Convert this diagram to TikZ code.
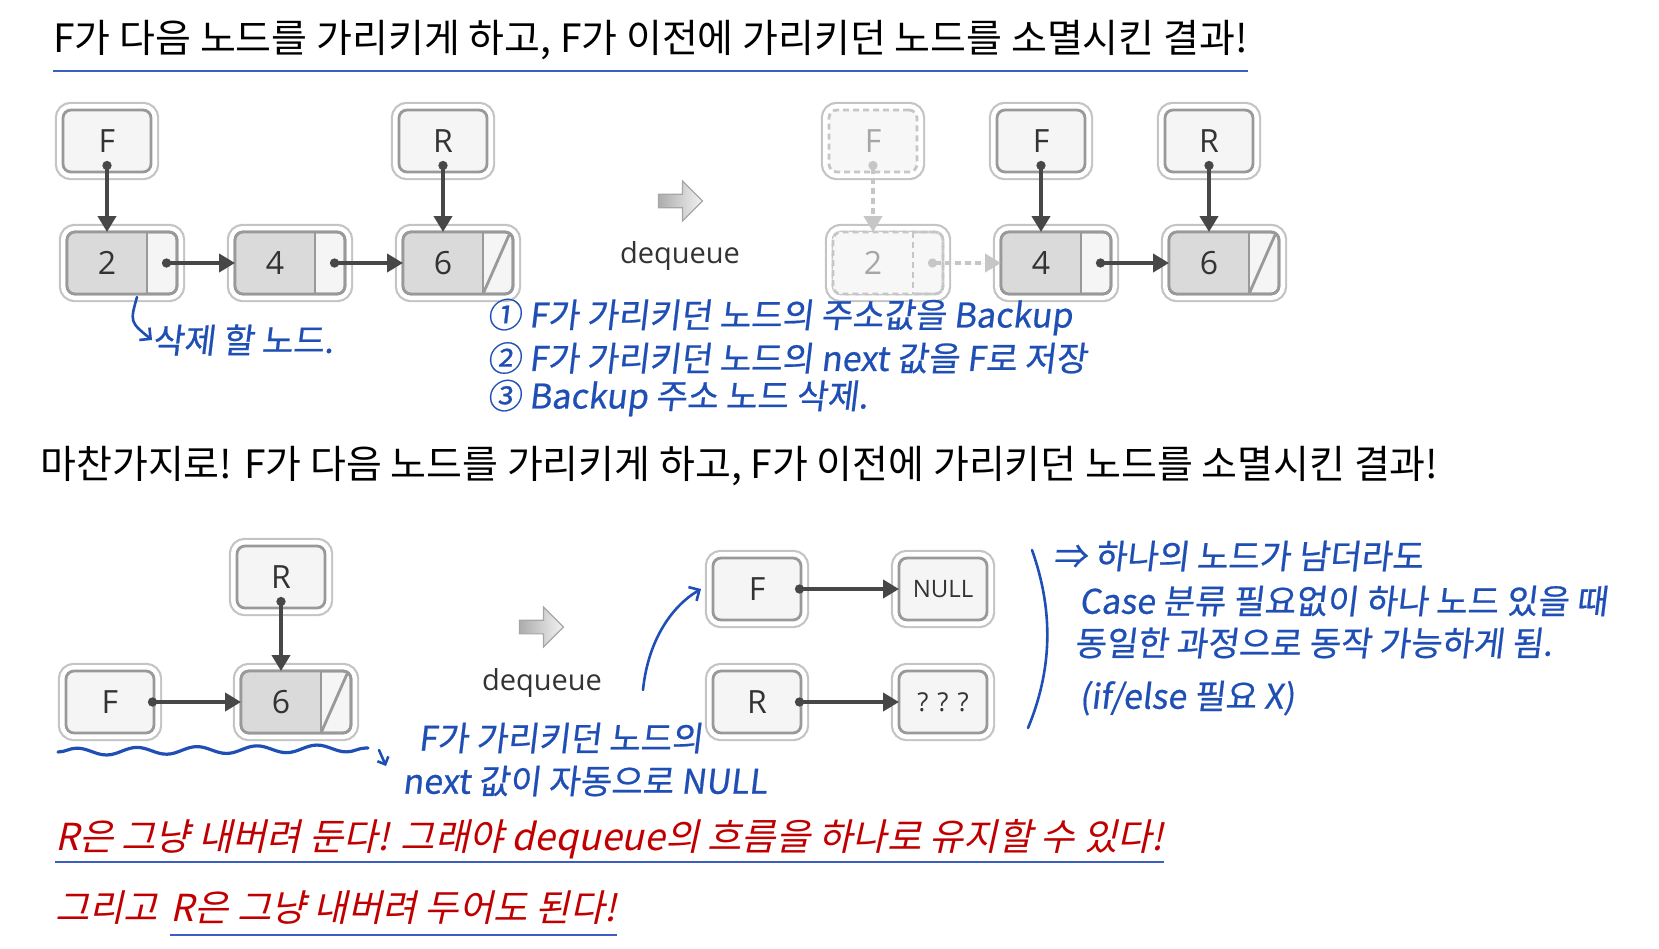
\documentclass[tikz,border=0pt]{standalone}
\usepackage{fontspec}
\setmainfont{Open Sans}
\newfontfamily\kofont{Noto Sans CJK KR}
\newfontfamily\handfont[FakeSlant=0.12, FakeBold=0.6]{Noto Sans CJK KR}
\newfontfamily\redfont[FakeSlant=0.22]{Noto Sans CJK KR}
\usetikzlibrary{arrows.meta, positioning, calc, shapes.arrows, decorations.pathmorphing}
\definecolor{boxline}{HTML}{999999}
\definecolor{boxfill}{HTML}{F4F5F4}
\definecolor{datafill}{HTML}{DADADA}
\definecolor{ptrgray}{HTML}{474747}
\definecolor{ghostline}{HTML}{C6C6C6}
\definecolor{ghostfill}{HTML}{F7F7F7}
\definecolor{ghosttext}{HTML}{A6A6A6}
\definecolor{rimshadow}{HTML}{C4C4C4}
\definecolor{textgray}{HTML}{333333}
\definecolor{inkblue}{HTML}{1F4FB5}
\definecolor{inkred}{HTML}{C00000}
\definecolor{ulblue}{HTML}{3A5FC0}

% list node: name, position, value, style prefix (q or ghost)
\newcommand{\qnode}[4]{%
  \node[#4box] (#1) at #2 {};
  \coordinate (#1-div) at ([xshift=-15pt]#1.north east);
  \begin{scope}
    \clip[rounded corners=4pt] (#1.south west) rectangle (#1.north east);
    \fill[#4data] (#1.south west) rectangle (#1-div);
  \end{scope}
  \draw[#4edge, rounded corners=4pt] (#1.south west) rectangle (#1.north east);
  \draw[#4edge] (#1-div) -- (#1-div |- #1.south);
  \node[#4val] (#1-val) at ([xshift=-7.5pt]#1.center) {#3};
  \coordinate (#1-next) at ([xshift=-7.5pt]#1.east);
}

\begin{document}
\begin{tikzpicture}[x=0.5pt, y=-0.5pt,
  rim/.style={preaction={draw=rimshadow, solid, line width=8.2pt},
              preaction={draw=white, solid, line width=6pt}},
  ptrbox/.style={rectangle, rounded corners=4pt, rim, draw=boxline, line width=1.4pt,
                 fill=boxfill, minimum width=44pt, minimum height=31pt, inner sep=0pt,
                 outer sep=0pt, font=\fontsize{16}{18}\selectfont, text=textgray},
  qbox/.style={ptrbox, minimum width=55pt},
  qdata/.style={datafill},
  qedge/.style={draw=boxline, line width=1.4pt},
  qval/.style={font=\fontsize{16}{18}\selectfont, text=textgray, inner sep=0pt},
  ghostbox/.style={qbox, draw=ghostline, dash pattern=on 3pt off 2pt, fill=ghostfill},
  ghostdata/.style={ghostfill},
  ghostedge/.style={draw=ghostline, line width=1.4pt, dash pattern=on 3pt off 2pt},
  ghostval/.style={qval, text=ghosttext},
  ptr/.style={arrows={Circle[length=4.5pt]-Triangle[width=9pt,length=8pt]}, line width=2pt, draw=ptrgray, fill=ptrgray},
  ghostptr/.style={ptr, draw=ghostline, fill=ghostline, dash pattern=on 3pt off 2pt},
  deqarrow/.style={single arrow, draw=gray!70, line width=0.6pt, left color=gray!65,
                   right color=gray!10, minimum height=22pt, minimum width=20pt,
                   single arrow head extend=2.5pt, inner sep=1pt},
  deqlabel/.style={font=\fontsize{14.5}{16}\selectfont, text=textgray},
  heading/.style={font=\kofont\fontsize{19.5}{21}\selectfont, inner sep=0pt},
  uline/.style={draw=ulblue, line width=1.1pt},
  hand/.style={font=\handfont\fontsize{17}{19}\selectfont, text=inkblue, inner sep=0pt},
  handline/.style={draw=inkblue, line width=1.3pt, line cap=round},
  redtext/.style={font=\redfont\fontsize{18.6}{20}\selectfont, text=inkred, inner sep=0pt},
]
\useasboundingbox (0,0) rectangle (1659,948);

% title
\node[heading, anchor=west] (title) at (53,40) {F가 다음 노드를 가리키게 하고, F가 이전에 가리키던 노드를 소멸시킨 결과!};
\draw[uline] ([yshift=-15.5pt]title.west) -- ([yshift=-15.5pt]title.east);

% before dequeue
\node[ptrbox] (f1) at (107,141) {F};
\node[ptrbox] (r1) at (443,141) {R};
\qnode{a2}{(122,263)}{2}{q}
\qnode{a4}{(290,263)}{4}{q}
\qnode{a6}{(458,263)}{6}{q}
\draw[qedge] (a6-div |- a6.south) -- ([xshift=-2pt,yshift=-1.5pt]a6.north east);
\draw[ptr] ([yshift=-10pt]f1.center) -- (f1.center |- a2.north);
\draw[ptr] ([yshift=-10pt]r1.center) -- (r1.center |- a6.north);
\draw[ptr] (a2-next) -- (a4.west);
\draw[ptr] (a4-next) -- (a6.west);

\node[deqarrow] (deq1) at (677,201) {};
\node[deqlabel] (deqtxt1) at (680,256) {dequeue};

% after dequeue
\node[ptrbox, draw=ghostline, dash pattern=on 3pt off 2pt, fill=ghostfill, text=ghosttext] (gf) at (873,141) {F};
\node[ptrbox] (f2) at (1041,141) {F};
\node[ptrbox] (r2) at (1209,141) {R};
\qnode{g2}{(888,263)}{2}{ghost}
\qnode{b4}{(1056,263)}{4}{q}
\qnode{b6}{(1224,263)}{6}{q}
\draw[qedge] (b6-div |- b6.south) -- ([xshift=-2pt,yshift=-1.5pt]b6.north east);
\draw[ghostptr] ([yshift=-10pt]gf.center) -- (gf.center |- g2.north);
\draw[ghostptr] (g2-next) -- (b4.west);
\draw[ptr] ([yshift=-10pt]f2.center) -- (f2.center |- b4.north);
\draw[ptr] ([yshift=-10pt]r2.center) -- (r2.center |- b6.north);
\draw[ptr] (b4-next) -- (b6.west);

% notes
\coordinate (delhook) at (137,297);
\node[hand, anchor=west] (del) at (152,340) {삭제 할 노드.};
\draw[handline, -{Straight Barb[length=4pt]}] (delhook) .. controls (130,322) .. (del.west);
\node[hand, anchor=west] (st1) at (487,317) {① F가 가리키던 노드의 주소값을 Backup};
\node[hand, anchor=west] (st2) at (487,358) {② F가 가리키던 노드의 next 값을 F로 저장};
\node[hand, anchor=west] (st3) at (487,398) {③ Backup 주소 노드 삭제.};

% second heading
\node[heading, anchor=west] (title2) at (40,466) {마찬가지로! F가 다음 노드를 가리키게 하고, F가 이전에 가리키던 노드를 소멸시킨 결과!};

% one node left
\node[ptrbox] (r3) at (281,577) {R};
\node[ptrbox] (f3) at (110,702) {F};
\qnode{c6}{(296,702)}{6}{q}
\draw[qedge] (c6-div |- c6.south) -- ([xshift=-2pt,yshift=-1.5pt]c6.north east);
\draw[ptr] ([yshift=-10pt]r3.center) -- (r3.center |- c6.north);
\draw[ptr] ([xshift=-3pt]f3.east) -- (c6.west);

\node[deqarrow] (deq2) at (538,627) {};
\node[deqlabel] (deqtxt2) at (542,683) {dequeue};

\node[ptrbox] (f4) at (757,589) {F};
\node[ptrbox, font=\fontsize{12}{14}\selectfont] (null) at (943,589) {NULL};
\node[ptrbox] (r4) at (757,702) {R};
\node[ptrbox, font=\fontsize{13}{15}\selectfont] (qq) at (943,702) {? ? ?};
\draw[ptr] ([xshift=-3pt]f4.east) -- (null.west);
\draw[ptr] ([xshift=-3pt]r4.east) -- (qq.west);

% notes
\draw[handline, line width=1.6pt, decorate, decoration={snake, amplitude=1.8pt, segment length=30pt}] (58,752) -- (368,748);
\draw[handline, -{Straight Barb[length=3pt]}] (379,750) -- (386,766);
\node[hand, anchor=west] (auto1) at (418,738) {F가 가리키던 노드의};
\node[hand, anchor=west] (auto2) at (402,781) {next 값이 자동으로 NULL};
\coordinate (hookstart) at (643,690);
\draw[handline, -{Straight Barb[length=4pt]}] (hookstart) .. controls (648,640) and (672,606) .. ([xshift=-6pt]f4.west);

\draw[handline] (1032,550) .. controls (1054,612) and (1052,670) .. (1028,728);
\node[hand, anchor=west] (sum1) at (1053,556) {⇒ 하나의 노드가 남더라도};
\node[hand, anchor=west] (sum2) at (1079,601) {Case 분류 필요없이 하나 노드 있을 때};
\node[hand, anchor=west] (sum3) at (1074,643) {동일한 과정으로 동작 가능하게 됨.};
\node[hand, anchor=west] (sum4) at (1079,698) {(if/else 필요 X)};

% red remarks
\node[redtext, anchor=west] (keep1) at (55,839) {R은 그냥 내버려 둔다! 그래야 dequeue의 흐름을 하나로 유지할 수 있다!};
\draw[uline] ([yshift=-11.5pt]keep1.west) -- ([yshift=-11.5pt]keep1.east);
\node[redtext, anchor=west] (keep2a) at (55,908) {그리고};
\node[redtext, right=6pt of keep2a] (keep2b) {R은 그냥 내버려 두어도 된다!};
\draw[uline] ([yshift=-13.5pt]keep2b.west) -- ([yshift=-13.5pt]keep2b.east);

\end{tikzpicture}
\end{document}
